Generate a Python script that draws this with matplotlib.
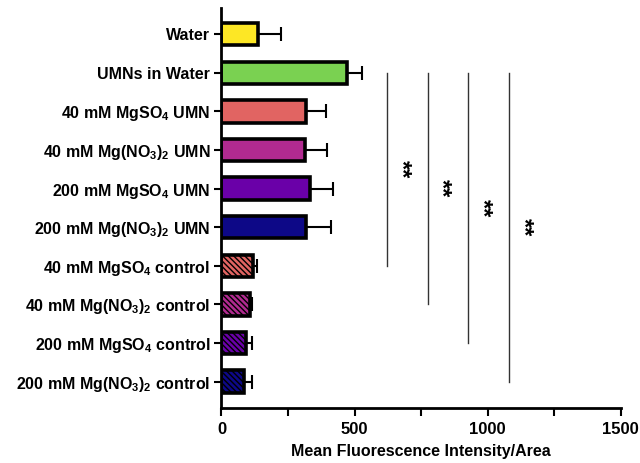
import matplotlib
matplotlib.use("Agg")
import matplotlib.pyplot as plt
import numpy as np

plt.rcParams['font.family'] = ['Liberation Sans', 'DejaVu Sans']
plt.rcParams['font.weight'] = 'bold'
plt.rcParams['mathtext.fontset'] = 'custom'
plt.rcParams['mathtext.rm'] = 'Liberation Sans:bold'
plt.rcParams['mathtext.default'] = 'rm'
plt.rcParams['hatch.linewidth'] = 1.0

categories = [
    "Water",
    "UMNs in Water",
    "40 mM MgSO$_{4}$ UMN",
    "40 mM Mg(NO$_{3}$)$_{2}$ UMN",
    "200 mM MgSO$_{4}$ UMN",
    "200 mM Mg(NO$_{3}$)$_{2}$ UMN",
    "40 mM MgSO$_{4}$ control",
    "40 mM Mg(NO$_{3}$)$_{2}$ control",
    "200 mM MgSO$_{4}$ control",
    "200 mM Mg(NO$_{3}$)$_{2}$ control",
]
means = [139, 472, 317, 314, 331, 317, 118, 109, 94, 86]
errors = [84, 56, 75, 84, 88, 96, 16, 7, 20, 27]
colors = ["#FDE725", "#7AD151", "#E16462", "#B12A90", "#6A00A8", "#0D0887",
          "#E16462", "#B12A90", "#6A00A8", "#0D0887"]
hatched = [False] * 6 + [True] * 4

# significance comparisons: (from index, to index, x position)
sig_from = [1, 1, 1, 1]
sig_to = [6, 7, 8, 9]
sig_x = [623, 775, 927, 1081]
sig_text = ["**", "**", "**", "**"]

fig = plt.figure(figsize=(6.4, 4.63), dpi=100)
ax = fig.add_axes([0.346, 0.119, 0.624, 0.864])

y = np.arange(len(categories))
ax.errorbar(means, y, xerr=[np.zeros(len(means)), errors], fmt='none',
            ecolor='black', elinewidth=1.5, capsize=5, capthick=1.5, zorder=1)
for yi, m, c, h in zip(y, means, colors, hatched):
    ax.barh(yi, m, height=0.58, color=c, edgecolor='black', linewidth=2.6,
            hatch='\\\\\\\\\\\\' if h else None, zorder=2)

for f, t, xv, s in zip(sig_from, sig_to, sig_x, sig_text):
    ax.plot([xv, xv], [f, t], color='#333333', lw=1.0, zorder=1)
    ax.text(xv + 52, (f + t) / 2, s, rotation=-90, ha='center', va='center',
            fontsize=17, fontweight='bold')

ax.set_xlim(0, 1500)
ax.set_ylim(9.68, -0.68)
ax.set_yticks(y)
ax.set_yticklabels(categories, fontsize=11.5, fontweight='bold')
ax.set_xticks([0, 500, 1000, 1500])
ax.set_xticks([250, 750, 1250], minor=True)
ax.tick_params(axis='x', which='both', length=6, width=1.5, labelsize=12, pad=4)
ax.tick_params(axis='y', length=5, width=1.5, pad=3)
for lab in ax.get_xticklabels():
    lab.set_fontweight('bold')
ax.set_xlabel("Mean Fluorescence Intensity/Area", fontsize=11.5, fontweight='bold', labelpad=5)

for s in ['top', 'right']:
    ax.spines[s].set_visible(False)
for s in ['left', 'bottom']:
    ax.spines[s].set_linewidth(2)

fig.savefig("out.png", dpi=100)
